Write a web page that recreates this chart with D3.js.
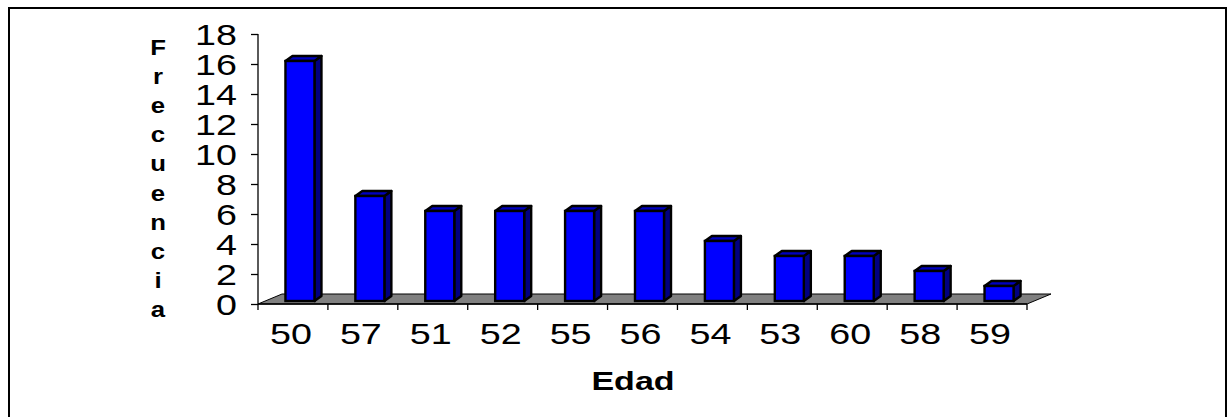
<!DOCTYPE html>
<html>
<head>
<meta charset="utf-8">
<script src="https://cdn.jsdelivr.net/npm/d3@7"></script>
<style>
  html, body { margin: 0; padding: 0; background: #fff; }
  svg { display: block; }
  text { font-family: Arial, "Liberation Sans", sans-serif; fill: #000; }
</style>
</head>
<body>
<svg id="chart" width="1230" height="417"></svg>
<script>
// Frecuencia de edades (orden de mayor a menor frecuencia)
const categories = ["50", "57", "51", "52", "55", "56", "54", "53", "60", "58", "59"];
const frequencies = [16, 7, 6, 6, 6, 6, 4, 3, 3, 2, 1];
const yTicks = [0, 2, 4, 6, 8, 10, 12, 14, 16, 18];
const yTitle = "Frecuencia";
const xTitle = "Edad";

const svg = d3.select("#chart");
const W = 1230, H = 417;

// Plot frame
const plotLeft = 258, plotRight = 1027, plotBottom = 304, plotTop = 34;
const floorDepth = { dx: 24, dy: -10 };   // depth of the 3D floor
const barFront = { dx: 7, dy: -3 };       // front face offset inside the floor
const barDepth = { dx: 7, dy: -5 };       // depth of each bar
const stretch = 1.3;                      // horizontal stretch of the labels

const x = d3.scaleBand().domain(categories).range([plotLeft, plotRight]).paddingInner(0).paddingOuter(0);
const y = d3.scaleLinear().domain([0, 18]).range([plotBottom, plotTop]);

// Outer border
svg.append("rect")
  .attr("x", 9).attr("y", 8).attr("width", 1217).attr("height", H + 20)
  .attr("fill", "none").attr("stroke", "#000").attr("stroke-width", 2);

// Floor
svg.append("polygon")
  .attr("points", [
    [plotLeft, plotBottom], [plotRight, plotBottom],
    [plotRight + floorDepth.dx, plotBottom + floorDepth.dy],
    [plotLeft + floorDepth.dx, plotBottom + floorDepth.dy]
  ].map(p => p.join(",")).join(" "))
  .attr("fill", "#808080").attr("stroke", "#000").attr("stroke-width", 1);

// Y axis
const yAxis = d3.axisLeft(y).tickValues(yTicks).tickSize(7).tickFormat("");
const gy = svg.append("g").attr("transform", `translate(${plotLeft},0)`).call(yAxis);
gy.select(".domain").remove();
gy.selectAll(".tick line").attr("stroke", "#000").attr("stroke-width", 1.3);
svg.append("line")
  .attr("x1", plotLeft).attr("x2", plotLeft).attr("y1", y(18)).attr("y2", plotBottom + 6)
  .attr("stroke", "#000").attr("stroke-width", 1.3);

// Y tick labels
svg.append("g").selectAll("text").data(yTicks).join("text")
  .attr("transform", d => `translate(237,${y(d) + 10.5}) scale(${stretch},1)`)
  .attr("text-anchor", "end")
  .attr("font-size", 29)
  .text(d => d);

// X axis line and ticks
svg.append("line")
  .attr("x1", plotLeft).attr("x2", plotRight).attr("y1", plotBottom).attr("y2", plotBottom)
  .attr("stroke", "#000").attr("stroke-width", 1.3);
const boundaries = categories.map(c => x(c) + x.bandwidth());
svg.append("g").selectAll("line").data(boundaries).join("line")
  .attr("x1", d => d).attr("x2", d => d)
  .attr("y1", plotBottom).attr("y2", plotBottom + 6)
  .attr("stroke", "#000").attr("stroke-width", 1.3);

// X tick labels
svg.append("g").selectAll("text").data(categories).join("text")
  .attr("transform", c => `translate(${x(c) + x.bandwidth() / 2 - 2},${plotBottom + 39.5}) scale(${stretch},1)`)
  .attr("text-anchor", "middle")
  .attr("font-size", 29)
  .text(c => c);

// 3D bars
const bw = x.bandwidth();
const faceW = bw * 0.415;
const bars = svg.append("g").selectAll("g").data(categories.map((c, i) => ({ c, v: frequencies[i] }))).join("g");
bars.each(function (d) {
  const g = d3.select(this);
  const x0 = x(d.c) + bw * 0.5 - faceW / 2 + barFront.dx;
  const x1 = x0 + faceW;
  const yb = y(0) + barFront.dy;
  const yt = y(d.v) + barFront.dy;
  const pts = a => a.map(p => p.join(",")).join(" ");
  // side face
  g.append("polygon")
    .attr("points", pts([[x1, yb], [x1 + barDepth.dx, yb + barDepth.dy], [x1 + barDepth.dx, yt + barDepth.dy], [x1, yt]]))
    .attr("fill", "#000080").attr("stroke", "#000").attr("stroke-width", 2.4).attr("stroke-linejoin", "round");
  // top face
  g.append("polygon")
    .attr("points", pts([[x0, yt], [x1, yt], [x1 + barDepth.dx, yt + barDepth.dy], [x0 + barDepth.dx, yt + barDepth.dy]]))
    .attr("fill", "#0000c0").attr("stroke", "#000").attr("stroke-width", 2.4).attr("stroke-linejoin", "round");
  // front face
  g.append("rect")
    .attr("x", x0).attr("y", yt).attr("width", faceW).attr("height", yb - yt)
    .attr("fill", "#0000ff").attr("stroke", "#000").attr("stroke-width", 2.4);
});

// Y title: stacked letters
svg.append("g").selectAll("text").data(yTitle.split("")).join("text")
  .attr("transform", (ch, i) => `translate(158,${55 + i * 29.1}) scale(1.12,1)`)
  .attr("text-anchor", "middle")
  .attr("font-size", 23)
  .attr("font-weight", "bold")
  .text(ch => ch);

// X title
svg.append("text")
  .attr("transform", `translate(633,390) scale(1.36,1)`)
  .attr("text-anchor", "middle")
  .attr("font-size", 25)
  .attr("font-weight", "bold")
  .text(xTitle);
</script>
</body>
</html>
